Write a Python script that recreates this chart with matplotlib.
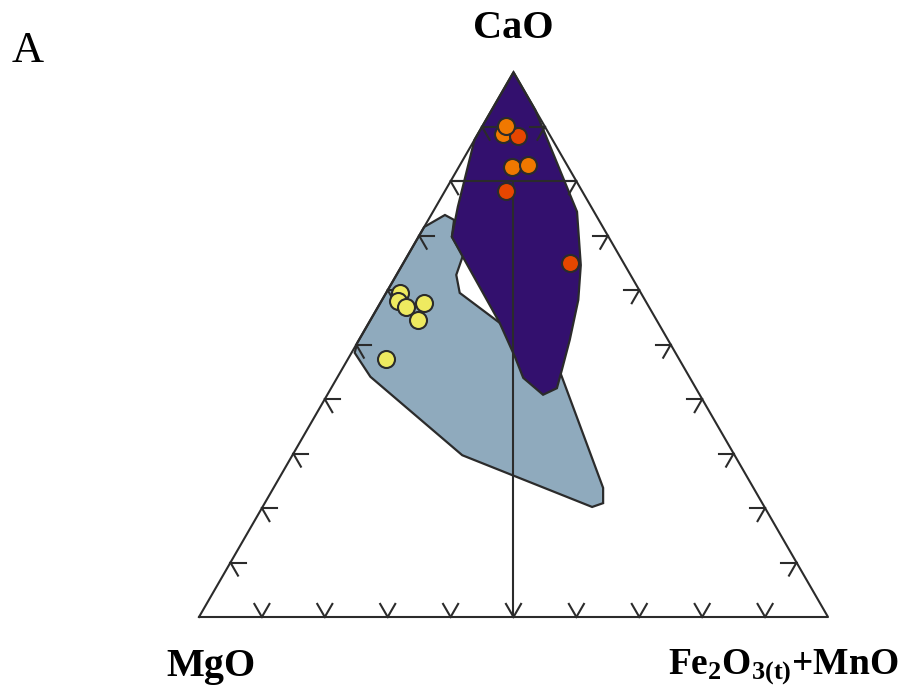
import numpy as np
import matplotlib
matplotlib.use("Agg")
import matplotlib.pyplot as plt
from matplotlib.patches import Polygon

plt.rcParams['mathtext.fontset'] = 'custom'
plt.rcParams['mathtext.rm'] = 'Liberation Serif:bold'
plt.rcParams['mathtext.it'] = 'Liberation Serif:bold'
plt.rcParams['mathtext.bf'] = 'Liberation Serif:bold'
plt.rcParams['mathtext.default'] = 'rm'

# compositions in % : (CaO, MgO, Fe2O3+MnO)
purple_field = [
    (100.0, 0.0, 0.0), (93.1, 0.0, 6.9), (74.4, 2.7, 22.9), (64.6, 7.0, 28.4),
    (58.2, 10.6, 31.2), (50.9, 15.6, 33.5), (45.4, 19.6, 35.0), (42.0, 22.1, 35.9),
    (40.8, 24.9, 34.3), (43.9, 26.5, 29.6), (47.7, 25.9, 26.4), (54.0, 25.2, 20.8),
    (66.1, 25.0, 8.9), (69.8, 24.9, 5.3), (75.3, 21.2, 3.5), (87.6, 12.4, 0.0),
]
blue_field = [
    (73.8, 24.0, 2.2), (72.9, 23.0, 4.1), (69.8, 24.9, 5.3), (66.3, 24.9, 8.8),
    (62.8, 27.7, 9.5), (59.5, 28.8, 11.7), (54.0, 25.2, 20.8), (49.9, 24.0, 26.1),
    (45.0, 20.1, 34.9), (23.7, 23.9, 52.4), (20.9, 25.3, 53.8), (20.2, 27.4, 52.4),
    (29.7, 43.3, 27.0), (44.1, 50.7, 5.2), (48.5, 51.0, 0.5), (50.3, 49.7, 0.0),
    (71.6, 28.4, 0.0),
]
orange_pts = [(88.7, 7.3, 4.0), (82.6, 8.9, 8.5), (83.0, 6.2, 10.8)]
red_pts = [(88.3, 5.1, 6.6), (78.2, 12.1, 9.7), (65.0, 8.5, 26.5)]
orange_top = [(90.1, 6.1, 3.8)]
yellow_pts = [(59.5, 38.3, 2.2), (58.0, 39.4, 2.6), (56.9, 38.6, 4.5),
              (57.6, 35.4, 7.0), (54.5, 37.9, 7.6), (47.4, 46.6, 6.0)]

tick_vals = [10, 20, 30, 40, 50, 60, 70, 80, 90]

H = np.sqrt(3) / 2
LINE = '#2b2b2b'


def tern(pts):
    a = np.array(pts, dtype=float) / 100.0
    c, f = a[:, 0], a[:, 2]
    return np.column_stack([f + c / 2, c * H])


fig = plt.figure(figsize=(9.06, 6.89), dpi=100)
ax = fig.add_axes([0, 0, 1, 1])
ax.set_xlim(-199 / 629, 707 / 629)
ax.set_ylim(-72 / 629, 617 / 629)
ax.axis('off')

ax.add_patch(Polygon(tern(blue_field), closed=True, fc='#8faabd', ec=LINE, lw=1.6, zorder=1))
ax.add_patch(Polygon(tern(purple_field), closed=True, fc='#33106e', ec=LINE, lw=1.6, zorder=2))

# triangle frame
tri = tern([(0, 100, 0), (0, 0, 100), (100, 0, 0), (0, 100, 0)])
ax.plot(tri[:, 0], tri[:, 1], color=LINE, lw=1.5, zorder=3)

# tick marks (two short arms along grid directions)
L = 0.024
d60, d120 = np.radians(60), np.radians(120)
for t in tick_vals:
    t = t / 100.0
    # bottom
    p = np.array([t, 0.0])
    for ang in (d60, d120):
        ax.plot([p[0], p[0] + L * np.cos(ang)], [p[1], p[1] + L * np.sin(ang)],
                color=LINE, lw=1.5, zorder=3)
    # left side
    p = np.array([t / 2, t * H])
    for dx, dy in ((1, 0), (0.5, -H)):
        ax.plot([p[0], p[0] + L * dx], [p[1], p[1] + L * dy], color=LINE, lw=1.5, zorder=3)
    # right side
    p = np.array([1 - t / 2, t * H])
    for dx, dy in ((-1, 0), (-0.5, -H)):
        ax.plot([p[0], p[0] + L * dx], [p[1], p[1] + L * dy], color=LINE, lw=1.5, zorder=3)

# CaO = 80 line and centre line
ax.plot([0.4, 0.6], [0.8 * H, 0.8 * H], color=LINE, lw=1.5, zorder=3)
ax.plot([0.5, 0.5], [0.0, 0.8 * H], color=LINE, lw=1.5, zorder=3)

for pts, col in ((orange_pts[:1], '#f07800'), (red_pts[:1], '#e64600'),
                 (orange_top, '#f07800'), (orange_pts[1:], '#f07800'),
                 (red_pts[1:], '#e64600'), (yellow_pts, '#eeea60')):
    xy = tern(pts)
    ax.scatter(xy[:, 0], xy[:, 1], s=150, c=col, edgecolors=LINE, linewidths=1.5, zorder=4)

ax.text(0.5, 0.936, 'CaO', ha='center', va='center', fontsize=29,
        family='Liberation Serif', weight='bold')
ax.text(0.019, -0.079, 'MgO', ha='center', va='center', fontsize=29,
        family='Liberation Serif', weight='bold')
ax.text(0.929, -0.079, r'Fe$_{2}$O$_{3(t)}$+MnO', ha='center', va='center', fontsize=27,
        family='Liberation Serif', weight='bold')
ax.text(-0.298, 0.900, 'A', ha='left', va='center', fontsize=32,
        family='Liberation Serif')

fig.savefig('out.png', dpi=100)
